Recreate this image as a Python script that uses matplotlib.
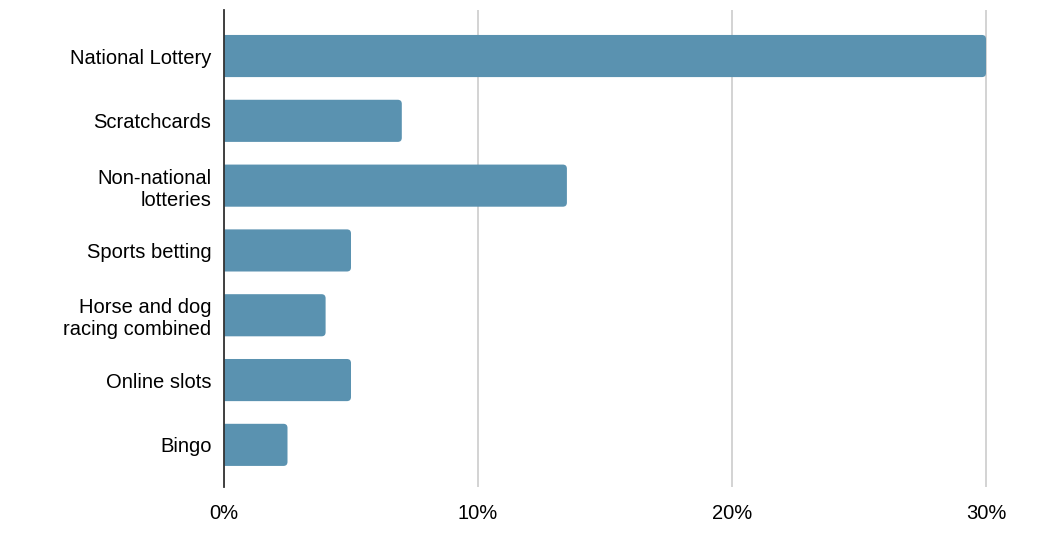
import matplotlib.pyplot as plt
from matplotlib.patches import FancyBboxPatch
from matplotlib.ticker import FuncFormatter

categories = ['National Lottery', 'Scratchcards', 'Non-national\nlotteries',
              'Sports betting', 'Horse and dog\nracing combined', 'Online slots', 'Bingo']
values = [30, 7, 13.5, 5, 4, 5, 2.5]
x_ticks = [0, 10, 20, 30]

plt.rcParams['font.family'] = ['Liberation Sans', 'DejaVu Sans']

fig = plt.figure(figsize=(10.38, 5.44), dpi=100)
ax = fig.add_axes([0.2158, 0.1048, 0.739, 0.8768])

bar_h = 0.65
color = '#5a92b0'
# x px per unit ~25.4, y px per unit ~64.8
aspect = 25.4 / 64.8
for i, v in enumerate(values):
    # start left of zero so the left corners get clipped square
    box = FancyBboxPatch((-0.5, i - bar_h / 2), v + 0.5, bar_h,
                         boxstyle='round,pad=0,rounding_size=0.16',
                         mutation_aspect=aspect,
                         facecolor=color, edgecolor='none', zorder=3)
    ax.add_patch(box)

ax.set_xlim(0, 30.2)
ax.set_ylim(6.65, -0.71)
ax.set_yticks(range(len(categories)))
ax.set_yticklabels(categories, fontsize=14.5)
ax.set_xticks(x_ticks)
ax.xaxis.set_major_formatter(FuncFormatter(lambda x, p: f'{x:.0f}%'))
ax.tick_params(axis='x', labelsize=14.5, length=0, pad=12)
ax.tick_params(axis='y', length=0, pad=9)

ax.grid(axis='x', color='#cccccc', linewidth=1.2, zorder=0)
for s in ['top', 'right', 'bottom']:
    ax.spines[s].set_visible(False)
ax.spines['left'].set_color('#333333')
ax.spines['left'].set_linewidth(1.3)
ax.spines['left'].set_zorder(4)

plt.savefig('out.png', dpi=100)
